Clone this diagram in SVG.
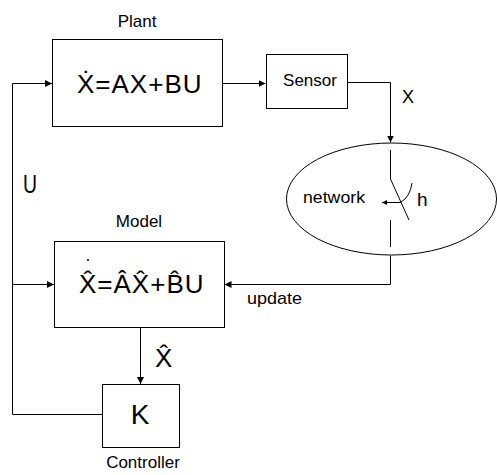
<svg xmlns="http://www.w3.org/2000/svg" width="497" height="475" viewBox="0 0 497 475">
<style>
  .box{fill:#fff;stroke:#000;stroke-width:1}
  .ln{fill:none;stroke:#000;stroke-width:1}
  .t{font-family:"Liberation Sans",Arial,sans-serif;fill:#000}
  .lbl{font-size:17px}
  .eq{font-size:26px;letter-spacing:1px}
</style>
<defs>
  <marker id="arr" markerWidth="8" markerHeight="8" refX="7" refY="4" orient="auto" markerUnits="userSpaceOnUse">
    <path d="M0,0.5 L7,4 L0,7.5 z" fill="#000"/>
  </marker>
  <marker id="arrs" markerWidth="6" markerHeight="6" refX="5" refY="3" orient="auto" markerUnits="userSpaceOnUse">
    <path d="M0,0.5 L5,3 L0,5.5 z" fill="#000"/>
  </marker>
</defs>
<rect width="497" height="475" fill="#fff"/>

<g id="connectors">
  <path class="ln" d="M222.5,83.5 H265.5" marker-end="url(#arr)"/>
  <path class="ln" d="M347.5,82.5 H390.5 V142.5" marker-end="url(#arr)"/>
  <path class="ln" d="M390.5,255.5 V284.5 H224.5" marker-end="url(#arr)"/>
  <path class="ln" d="M140.5,327.5 V384" marker-end="url(#arr)"/>
  <path class="ln" d="M102.5,414.5 H12.5 V83.5 H52" marker-end="url(#arr)"/>
  <path class="ln" d="M12.5,284.5 H54" marker-end="url(#arr)"/>
  <text class="t" x="402" y="103" font-size="18">X</text>
  <text class="t" x="23" y="193" font-size="26" textLength="14" lengthAdjust="spacingAndGlyphs">U</text>
  <text class="t lbl" x="247" y="304" textLength="55" lengthAdjust="spacingAndGlyphs">update</text>
  <text class="t" x="155" y="367" font-size="26">X&#x302;</text>
</g>

<g id="plant">
  <text class="t lbl" x="137" y="27" text-anchor="middle">Plant</text>
  <rect class="box" x="52.5" y="39.5" width="170" height="87"/>
  <text class="t eq" x="77" y="93">X&#x307;=AX+BU</text>
</g>

<g id="sensor">
  <rect class="box" x="266.5" y="54.5" width="81" height="54"/>
  <text class="t lbl" x="310" y="86" text-anchor="middle">Sensor</text>
</g>

<g id="network">
  <ellipse class="ln" cx="391.5" cy="199" rx="105" ry="56"/>
  <text class="t lbl" x="303" y="203" textLength="62" lengthAdjust="spacingAndGlyphs">network</text>
  <path class="ln" d="M390.5,150 V179 L409,220"/>
  <path class="ln" d="M390.5,220 V247"/>
  <path class="ln" d="M412,183 Q410,197 401,202"/>
  <path class="ln" d="M401,202.5 H382" marker-end="url(#arrs)"/>
  <text class="t" x="417" y="206" font-size="19">h</text>
</g>

<g id="model">
  <text class="t lbl" x="139" y="227" text-anchor="middle">Model</text>
  <rect class="box" x="54.5" y="241.5" width="170" height="86"/>
  <text class="t" x="88" y="262" font-size="7" text-anchor="middle">•</text>
  <text class="t eq" x="79" y="293">X&#x302;=A&#x302;X&#x302;+B&#x302;U</text>
</g>

<g id="controller">
  <rect class="box" x="102.5" y="384.5" width="77" height="63"/>
  <text class="t" x="140" y="424" font-size="28" text-anchor="middle">K</text>
  <text class="t lbl" x="143" y="468" text-anchor="middle">Controller</text>
</g>
</svg>
